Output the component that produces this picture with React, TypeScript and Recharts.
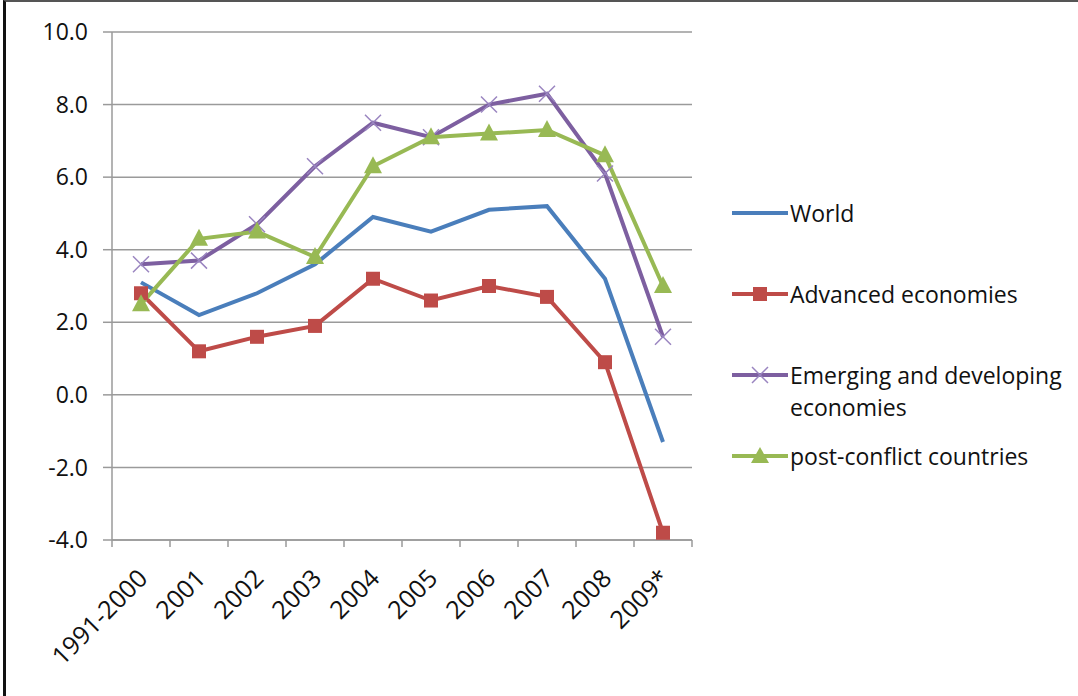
import { LineChart, Line, XAxis, YAxis, CartesianGrid } from 'recharts';

// GDP growth, % per year
const categories = ['1991-2000', '2001', '2002', '2003', '2004', '2005', '2006', '2007', '2008', '2009*'];
const world = [3.1, 2.2, 2.8, 3.6, 4.9, 4.5, 5.1, 5.2, 3.2, -1.3];
const advanced = [2.8, 1.2, 1.6, 1.9, 3.2, 2.6, 3.0, 2.7, 0.9, -3.8];
const emerging = [3.6, 3.7, 4.7, 6.3, 7.5, 7.1, 8.0, 8.3, 6.1, 1.6];
const postConflict = [2.5, 4.3, 4.5, 3.8, 6.3, 7.1, 7.2, 7.3, 6.6, 3.0];
const yTicks = [-4, -2, 0, 2, 4, 6, 8, 10];

const data = categories.map((c, i) => ({
  cat: c,
  world: world[i],
  advanced: advanced[i],
  emerging: emerging[i],
  post: postConflict[i],
}));

const BLUE = '#4a7ebb';
const RED = '#be4b48';
const PURPLE = '#7d5fa0';
const GREEN = '#98b954';
const GRID = '#9a9a9a';
const FONT = '"Open Sans", "Liberation Sans", Arial, sans-serif';
const PLOT_W = 580;
const HALF_BAND = PLOT_W / categories.length / 2;

const SquareDot = (p: any) => (
  <rect key={p.index} x={p.cx - 7} y={p.cy - 7} width={14} height={14} fill={RED} />
);
const CrossDot = (p: any) => (
  <path
    key={p.index}
    d={`M${p.cx - 8},${p.cy - 8}L${p.cx + 8},${p.cy + 8}M${p.cx - 8},${p.cy + 8}L${p.cx + 8},${p.cy - 8}`}
    stroke="#9a85c0"
    strokeWidth={1.5}
    fill="none"
  />
);
const TriDot = (p: any) => (
  <path
    key={p.index}
    d={`M${p.cx},${p.cy - 10}L${p.cx + 9},${p.cy + 7}L${p.cx - 9},${p.cy + 7}Z`}
    fill={GREEN}
  />
);

// category label plus tick marks on the band edges (Excel style)
const XLabel = (p: any) => {
  const axisY = p.y - 8;
  const last = p.index === categories.length - 1;
  const ax = p.x + 8;
  const ay = p.y + 32;
  return (
    <g>
      <line x1={p.x - HALF_BAND} y1={axisY} x2={p.x - HALF_BAND} y2={axisY + 7} stroke={GRID} strokeWidth={1.5} />
      {last && (
        <line x1={p.x + HALF_BAND} y1={axisY} x2={p.x + HALF_BAND} y2={axisY + 7} stroke={GRID} strokeWidth={1.5} />
      )}
      <text
        x={ax}
        y={ay}
        transform={`rotate(-45 ${ax} ${ay})`}
        textAnchor="end"
        fontSize={25}
        fontFamily={FONT}
        fill="#111"
      >
        {p.payload.value}
      </text>
    </g>
  );
};

const legendItems = [
  { label: ['World'], color: BLUE, marker: 'none', top: 0 },
  { label: ['Advanced economies'], color: RED, marker: 'square', top: 81 },
  { label: ['Emerging and developing', 'economies'], color: PURPLE, marker: 'cross', top: 162 },
  { label: ['post-conflict countries'], color: GREEN, marker: 'tri', top: 243 },
];

const LegendBox = () => (
  <div style={{ position: 'absolute', left: 732, top: 199, width: 346, height: 280, fontFamily: FONT, fontSize: 23, color: '#111' }}>
    {legendItems.map((it) => (
      <div key={it.label[0]} style={{ position: 'absolute', left: 0, top: it.top, display: 'flex' }}>
        <svg width={56} height={28} style={{ flex: 'none' }}>
          <line x1={0} y1={14} x2={56} y2={14} stroke={it.color} strokeWidth={4} />
          {it.marker === 'square' && <rect x={21} y={7} width={14} height={14} fill={RED} />}
          {it.marker === 'cross' && (
            <path d="M20,6L36,22M20,22L36,6" stroke="#9a85c0" strokeWidth={1.5} />
          )}
          {it.marker === 'tri' && <path d="M28,5L37,21L19,21Z" fill={GREEN} />}
        </svg>
        <div style={{ lineHeight: '32px', marginTop: -2, marginLeft: 2, whiteSpace: 'nowrap' }}>
          {it.label.map((l) => (
            <div key={l}>{l}</div>
          ))}
        </div>
      </div>
    ))}
  </div>
);

export default function App() {
  return (
    <div style={{ position: 'absolute', left: 0, top: 0, width: 1078, height: 696, background: '#fff' }}>
      <div
        style={{
          position: 'absolute',
          left: 3,
          top: 0,
          width: 1075,
          height: 696,
          borderLeft: '3px solid #111',
          borderTop: '2px solid #555',
          boxSizing: 'border-box',
        }}
      />
      <LineChart
        width={1078}
        height={696}
        data={data}
        margin={{ top: 32, right: 386, bottom: 155, left: 0 }}
        style={{ position: 'absolute', left: 0, top: 0 }}
      >
        <CartesianGrid horizontal vertical={false} stroke={GRID} strokeWidth={1.5} />
        <XAxis
          dataKey="cat"
          height={1}
          padding={{ left: HALF_BAND, right: HALF_BAND }}
          axisLine={{ stroke: GRID, strokeWidth: 1.5 }}
          tickLine={false}
          tickSize={6}
          tickMargin={2}
          interval={0}
          tick={<XLabel />}
        />
        <YAxis
          width={112}
          domain={[-4, 10]}
          ticks={yTicks}
          interval={0}
          tickFormatter={(v: number) => v.toFixed(1)}
          axisLine={{ stroke: GRID, strokeWidth: 1.5 }}
          tickLine={{ stroke: GRID, strokeWidth: 1.5 }}
          tickSize={9}
          tickMargin={15}
          tick={{ fontSize: 23, fontFamily: FONT, fill: '#111' }}
        />
        <Line dataKey="world" name="World" stroke={BLUE} strokeWidth={4} dot={false} isAnimationActive={false} />
        <Line dataKey="advanced" name="Advanced economies" stroke={RED} strokeWidth={4} dot={SquareDot} isAnimationActive={false} />
        <Line dataKey="emerging" name="Emerging and developing economies" stroke={PURPLE} strokeWidth={4} dot={CrossDot} isAnimationActive={false} />
        <Line dataKey="post" name="post-conflict countries" stroke={GREEN} strokeWidth={4} dot={TriDot} isAnimationActive={false} />
      </LineChart>
      <LegendBox />
    </div>
  );
}
